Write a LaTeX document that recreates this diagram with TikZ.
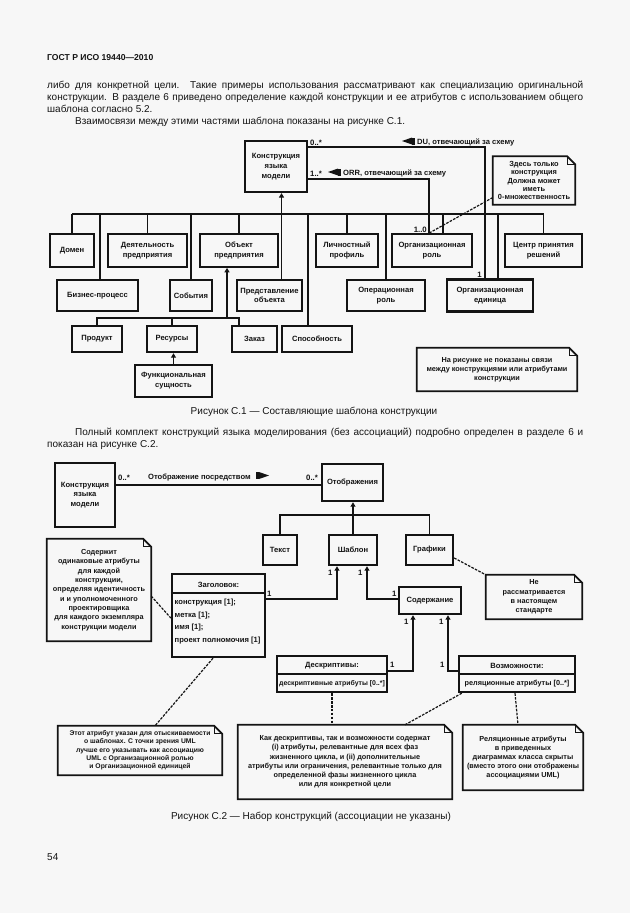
\documentclass[tikz,border=0pt]{standalone}
\usepackage{fontspec}
\setmainfont{Liberation Sans}
\usetikzlibrary{arrows.meta}
\definecolor{pagebg}{HTML}{F7F7F7}
\definecolor{ink}{HTML}{141414}
\newcommand\dfont{\fontsize{7.6}{9.8}\selectfont\bfseries}
\newcommand\nfont{\fontsize{7.3}{9.2}\selectfont\bfseries}
\newcommand\mfont{\fontsize{7.8}{9}\selectfont\bfseries}
\newcommand\bodyfont{\fontsize{10}{12}\selectfont}
\newcommand\dogear[1]{%
  \draw[noteline] (#1.south west) -- (#1.north west) -- ([xshift=-8pt]#1.north east) -- ([yshift=-8pt]#1.north east) -- (#1.south east) -- cycle;
  \draw[noteline, line width=1.2pt] ([xshift=-8pt]#1.north east) -- ([xshift=-8pt,yshift=-8pt]#1.north east) -- ([yshift=-8pt]#1.north east);}
\begin{document}
\begin{tikzpicture}[x=1pt,y=-1pt,
  box/.style={draw=ink, line width=1.7pt, inner sep=0pt, align=center, font=\dfont, text=ink},
  tbox/.style={box, line width=2.4pt},
  note/.style={inner sep=0pt, align=center, font=\nfont, text=ink},
  noteline/.style={draw=ink, line width=1.8pt, line join=miter},
  conn/.style={draw=ink, line width=1.4pt},
  busline/.style={draw=ink, line width=2pt},
  gen/.style={conn, -{Triangle[width=5pt,length=4.5pt]}},
  dsh/.style={draw=ink, line width=1.2pt, dash pattern=on 2.6pt off 1.3pt},
  lbl/.style={inner sep=0pt, font=\mfont, text=ink},
  body/.style={inner sep=0pt, font=\bodyfont, text=ink}
]
\fill[pagebg] (0,0) rectangle (630,913);
\useasboundingbox (0,0) rectangle (630,913);

% ---------- page text ----------
\node[anchor=base west, inner sep=0pt, font=\fontsize{8.6}{10}\selectfont\bfseries, text=ink] (hdr) at (47,60) {ГОСТ Р ИСО 19440—2010};
\node[body, anchor=base west] (l1) at (47,88) {\hbox to 536pt{либо для конкретной цели. Такие примеры использования рассматривают как специализацию оригинальной}};
\node[body, anchor=base west] (l2) at (47,100) {\hbox to 536pt{конструкции. В разделе 6 приведено определение каждой конструкции и ее атрибутов с использованием общего}};
\node[body, anchor=base west] (l3) at (47,112) {шаблона согласно 5.2.};
\node[body, anchor=base west] (l4) at (75,124) {Взаимосвязи между этими частями шаблона показаны на рисунке С.1.};

% ---------- figure C.1 ----------
\node[box, line width=2.2pt, minimum width=62pt, minimum height=51pt] (main) at (276,166.5) {Конструкция\\языка\\модели};

\node[box, minimum width=44pt, minimum height=33pt] (dom) at (72,250.5) {Домен};
\node[box, minimum width=79pt, minimum height=33pt] (deyat) at (147.5,250.5) {Деятельность\\предприятия};
\node[box, minimum width=78pt, minimum height=33pt] (obj) at (239,250.5) {Объект\\предприятия};
\node[box, minimum width=62pt, minimum height=33pt] (lich) at (347,250.5) {Личностный\\профиль};
\node[box, minimum width=80pt, minimum height=33pt] (orgrole) at (432,250.5) {Организационная\\роль};
\node[box, minimum width=77pt, minimum height=33pt] (centr) at (543.5,250.5) {Центр принятия\\решений};

\node[tbox, minimum width=81pt, minimum height=31pt] (biz) at (97.5,295.5) {Бизнес-процесс};
\node[tbox, minimum width=42pt, minimum height=31pt] (sob) at (191,295.5) {События};
\node[tbox, minimum width=65pt, minimum height=31pt] (pred) at (269.5,295.5) {Представление\\объекта};
\node[tbox, minimum width=78pt, minimum height=31pt] (oper) at (386,295.5) {Операционная\\роль};
\node[tbox, minimum width=86pt, minimum height=32pt] (orgunit) at (490,295.5) {Организационная\\единица};

\node[tbox, minimum width=50pt, minimum height=26pt] (prod) at (97,339) {Продукт};
\node[tbox, minimum width=50pt, minimum height=26pt] (res) at (172,339) {Ресурсы};
\node[tbox, minimum width=45pt, minimum height=26pt] (zakaz) at (254.5,339) {Заказ};
\node[tbox, minimum width=70pt, minimum height=26pt] (sposob) at (317,339) {Способность};
\node[tbox, minimum width=77pt, minimum height=32pt] (func) at (173.5,381) {Функциональная\\сущность};

\node[note, font=\fontsize{7.4}{8.2}\selectfont\bfseries, minimum width=82pt, minimum height=48pt] (note1) at (534,180.5) {Здесь только\\конструкция\\Должна может\\иметь\\0-множественность};
\dogear{note1}
\node[note, minimum width=160pt, minimum height=43pt] (note2) at (497,369.5) {На рисунке не показаны связи\\между конструкциями или атрибутами\\конструкции};
\dogear{note2}

% bus
\coordinate (busL) at (72,214);
\coordinate (busR) at (543.5,214);
\draw[busline] (busL) -- (busR);
\draw[conn] (dom.north) -- (dom.north |- busL);
\draw[conn] (deyat.north) -- (deyat.north |- busL);
\draw[conn] (obj.north) -- (obj.north |- busL);
\draw[conn] (lich.north) -- (lich.north |- busL);
\draw[conn] ([xshift=11pt]orgrole.north) -- ([xshift=11pt]orgrole.north |- busL);
\draw[conn] (centr.north) -- (centr.north |- busL);
\draw[conn] ([xshift=2.5pt]biz.north) -- ([xshift=2.5pt]biz.north |- busL);
\draw[conn] (sob.north) -- (sob.north |- busL);
\draw[conn] (oper.north) -- (oper.north |- busL);
\draw[conn] ([xshift=8pt]orgunit.north) -- ([xshift=8pt]orgunit.north |- busL);
\draw[conn] ([xshift=-9pt]sposob.north) -- ([xshift=-9pt]sposob.north |- busL);
\draw[gen] ([xshift=12pt]pred.north) -- ([xshift=5.5pt]main.south);

% associations
\draw[conn] ([yshift=19.5pt]main.east) -| ([xshift=-5pt]orgunit.north);
\draw[conn] ([yshift=-12.5pt]main.east) -| ([xshift=-3pt]orgrole.north);
\node[lbl, anchor=base west] (m01) at (310,145) {0..*};
\node[lbl, anchor=base west] (m11) at (310,176) {1..*};
\node[lbl, anchor=base east] (m10) at (427,232) {1..0};
\node[lbl, anchor=base east] (m1u) at (482,277) {1};
\fill[ink] (412,137.5) -- (412,144.5) -- (402,141) -- cycle;
\fill[ink] (412,137.5) rectangle (415,144.5);
\node[note, font=\dfont, anchor=base west] (du) at (417,144) {DU, отвечающий за схему};
\fill[ink] (338,168.5) -- (338,175.5) -- (328,172) -- cycle;
\fill[ink] (338,168.5) rectangle (341,175.5);
\node[note, font=\dfont, anchor=base west] (orr) at (343,175) {ORR, отвечающий за схему};

% lower tree
\coordinate (b3) at (0,318);
\draw[conn] (prod.north) |- ([xshift=-15.5pt]zakaz.north |- b3) -- ([xshift=-15.5pt]zakaz.north);
\draw[conn] (res.north) -- (res.north |- b3);
\draw[gen] ([xshift=-12pt]obj.south |- b3) -- ([xshift=-12pt]obj.south);
\draw[gen] (func.north) -- (func.north |- res.south);

% note link
\draw[dsh] ([yshift=-17pt]note1.west) -- ([xshift=-3pt]orgrole.north);

\node[body, anchor=base] (cap1) at (314,414) {Рисунок С.1 — Составляющие шаблона конструкции};

\node[body, anchor=base west] (l5) at (75,435) {\hbox to 508pt{Полный комплект конструкций языка моделирования (без ассоциаций) подробно определен в разделе 6 и}};
\node[body, anchor=base west] (l6) at (47,447) {показан на рисунке С.2.};

% ---------- figure C.2 ----------
\node[tbox, minimum width=60pt, minimum height=64pt] (kon2) at (85,495) {Конструкция\\языка\\модели};
\node[tbox, minimum width=61pt, minimum height=37pt] (otobr) at (352.5,482.5) {Отображения};
\node[tbox, minimum width=34pt, minimum height=30pt] (tekst) at (280,550) {Текст};
\node[tbox, minimum width=48pt, minimum height=30pt] (shablon) at (353,550) {Шаблон};
\node[tbox, minimum width=47pt, minimum height=30pt] (grafiki) at (429.5,550) {Графики};
\node[tbox, minimum width=93pt, minimum height=83pt] (zag) at (218.5,615.5) {};
\node[tbox, minimum width=62pt, minimum height=27pt] (soderzh) at (430,600.5) {Содержание};
\node[tbox, minimum width=110pt, minimum height=36pt] (deskr) at (332,674) {};
\node[tbox, minimum width=116pt, minimum height=36pt] (vozm) at (517,674) {};

\draw[conn, line width=1.6pt] ([yshift=-20pt]zag.north west) -- ([yshift=-20pt]zag.north east);
\node[note, font=\dfont] (zagt) at (218.5,584.5) {Заголовок:};
\node[note, font=\fontsize{7.6}{12.8}\selectfont\bfseries, anchor=north west, align=left] (zaga) at (174.5,598.5) {конструкция [1];\\метка [1];\\имя [1];\\проект полномочия [1]};
\draw[conn, line width=1.6pt] (deskr.west) -- (deskr.east);
\node[note, font=\dfont] (deskrt) at (332,665.5) {Дескриптивы:};
\node[note, font=\fontsize{6.9}{8}\selectfont\bfseries] (deskra) at (332,683.5) {дескриптивные атрибуты [0..*]};
\draw[conn, line width=1.6pt] (vozm.west) -- (vozm.east);
\node[note, font=\dfont] (vozmt) at (517,665.5) {Возможности:};
\node[note, font=\fontsize{7.3}{8}\selectfont\bfseries] (vozma) at (517,683.5) {реляционные атрибуты [0..*]};

\draw[conn] ([yshift=10pt]kon2.east) -- ([yshift=10pt]kon2.east -| otobr.west);
\node[lbl, anchor=base west] (m2a) at (118,480) {0..*};
\node[lbl, anchor=base west] (m2b) at (306,480) {0..*};
\node[note, font=\dfont, anchor=base west] (otp) at (148,479) {Отображение посредством};
\fill[ink] (256,472) rectangle (259,479);
\fill[ink] (259,472) -- (259,479) -- (269,475.5) -- cycle;

\coordinate (b2) at (0,515);
\draw[conn] (tekst.north) |- (grafiki.north |- b2) -- (grafiki.north);
\draw[gen] (shablon.north) -- (shablon.north |- otobr.south);

\draw[gen] ([yshift=16.5pt]zag.east) -| ([xshift=-16pt]shablon.south);
\draw[gen] ([yshift=1.5pt]soderzh.west) -| ([xshift=14pt]shablon.south);
\draw[gen] ([yshift=3pt]deskr.east) -| ([xshift=-17pt]soderzh.south);
\draw[gen] ([yshift=3pt]vozm.west) -| ([xshift=18pt]soderzh.south);

\node[lbl, anchor=base west] (n1) at (267,596) {1};
\node[lbl, anchor=base west] (n2) at (328,575) {1};
\node[lbl, anchor=base west] (n3) at (358,575) {1};
\node[lbl, anchor=base west] (n4) at (392,596) {1};
\node[lbl, anchor=base west] (n5) at (404,624) {1};
\node[lbl, anchor=base west] (n6) at (439,624) {1};
\node[lbl, anchor=base west] (n7) at (390,667) {1};
\node[lbl, anchor=base west] (n8) at (440,667) {1};

% notes
\node[note, font=\fontsize{7.3}{9.4}\selectfont\bfseries, minimum width=104pt, minimum height=102pt] (notA) at (99,590) {Содержит\\одинаковые атрибуты\\для каждой\\конструкции,\\определяя идентичность\\и и уполномоченного\\проектировщика\\для каждого экземпляра\\конструкции модели};
\dogear{notA}
\node[note, minimum width=96pt, minimum height=44pt] (notB) at (534,597) {Не\\рассматривается\\в настоящем\\стандарте};
\dogear{notB}
\node[note, font=\fontsize{6.8}{8.3}\selectfont\bfseries, minimum width=164pt, minimum height=49pt] (notC) at (140,750.5) {Этот атрибут указан для отыскиваемости\\о шаблонах. С точки зрения UML\\лучше его указывать как ассоциацию\\UML с Организационной ролью\\и Организационной единицей};
\dogear{notC}
\node[note, minimum width=214pt, minimum height=74pt] (notD) at (345,762) {Как дескриптивы, так и возможности содержат\\(i) атрибуты, релевантные для всех фаз\\жизненного цикла, и (ii) дополнительные\\атрибуты или ограничения, релевантные только для\\определенной фазы жизненного цикла\\или для конкретной цели};
\dogear{notD}
\node[note, minimum width=120pt, minimum height=65pt] (notE) at (523,757.5) {Реляционные атрибуты\\в приведенных\\диаграммах класса скрыты\\(вместо этого они отображены\\ассоциациями UML)};
\dogear{notE}

\draw[dsh] ([yshift=-6pt]notA.east) -- ([yshift=-2.5pt]zag.west);
\draw[dsh] ([yshift=-8pt]grafiki.east) -- (notB.north west);
\draw[dsh] ([xshift=-5.5pt]zag.south) -- ([xshift=15pt]notC.north);
\draw[dsh] (deskr.south) -- ([xshift=-13pt]notD.north);
\draw[dsh] ([xshift=4pt]vozm.south west) -- ([xshift=60pt]notD.north);
\draw[dsh] ([xshift=-2pt]vozm.south) -- ([xshift=-5pt]notE.north);

\node[body, anchor=base] (cap2) at (311,819) {Рисунок С.2 — Набор конструкций (ассоциации не указаны)};
\node[body, anchor=base west] (pg) at (47,860) {54};
\end{tikzpicture}
\end{document}
